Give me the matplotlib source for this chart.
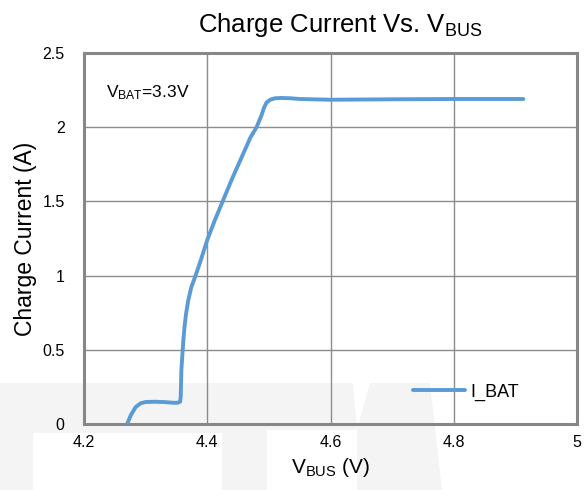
import matplotlib
matplotlib.use("Agg")
import matplotlib.pyplot as plt
from matplotlib import font_manager
from matplotlib.patches import Polygon

# Charge current vs. bus voltage, V_BAT = 3.3 V
vbus = [4.270, 4.276, 4.284, 4.292, 4.300, 4.315, 4.330, 4.345, 4.352, 4.356,
        4.357, 4.358, 4.3595, 4.3610, 4.3630, 4.3655, 4.369, 4.374, 4.381, 4.390,
        4.400, 4.412, 4.425, 4.440, 4.455, 4.470, 4.480, 4.488, 4.492, 4.496,
        4.502, 4.510, 4.520, 4.535, 4.550, 4.600, 4.700, 4.800, 4.913]
i_bat = [0.00, 0.06, 0.115, 0.140, 0.148, 0.150, 0.148, 0.143, 0.143, 0.150,
         0.19, 0.36, 0.46, 0.55, 0.65, 0.74, 0.83, 0.92, 1.00, 1.11,
         1.24, 1.37, 1.50, 1.65, 1.79, 1.93, 2.00, 2.08, 2.13, 2.165,
         2.185, 2.195, 2.197, 2.195, 2.19, 2.185, 2.188, 2.19, 2.19]

x_ticks = [4.2, 4.4, 4.6, 4.8, 5.0]
x_tick_labels = ["4.2", "4.4", "4.6", "4.8", "5"]
y_ticks = [0, 0.5, 1, 1.5, 2, 2.5]
y_tick_labels = ["0", "0.5", "1", "1.5", "2", "2.5"]

available = {f.name for f in font_manager.fontManager.ttflist}
family = "Liberation Sans Narrow" if "Liberation Sans Narrow" in available else "Liberation Sans"
plt.rcParams["font.family"] = [family, "DejaVu Sans"]
plt.rcParams["mathtext.fontset"] = "custom"
plt.rcParams["mathtext.rm"] = family
plt.rcParams["mathtext.default"] = "regular"

W, H = 587, 490
fig = plt.figure(figsize=(W / 100, H / 100), dpi=100)

# faint background logo band along the bottom
def px_poly(pts, **kw):
    return Polygon([(x / W, 1 - y / H) for x, y in pts], closed=True,
                   transform=fig.transFigure, zorder=-5, linewidth=0, **kw)

wm = "#f4f4f4"
for pts in [
    [(0, 383), (33, 383), (33, 490), (0, 490)],
    [(33, 383), (222, 383), (222, 433), (33, 433)],
    [(222, 383), (267, 383), (267, 490), (222, 490)],
    [(267, 383), (353, 383), (357, 430), (267, 430)],
    [(370, 383), (430, 383), (442, 490), (357, 490), (357, 430)],
]:
    fig.add_artist(px_poly(pts, facecolor=wm))

ax = fig.add_axes([84 / W, 1 - 424 / H, (577 - 84) / W, (424 - 53) / H])
ax.set_facecolor("none")

ax.plot(vbus, i_bat, color="#5B9BD5", linewidth=2.8, solid_capstyle="round",
        solid_joinstyle="round", label="I_BAT", zorder=3)

ax.set_xlim(4.2, 5.0)
ax.set_ylim(0, 2.5)
ax.set_xticks(x_ticks)
ax.set_xticklabels(x_tick_labels)
ax.set_yticks(y_ticks)
ax.set_yticklabels(y_tick_labels)
ax.tick_params(length=0, labelsize=11.5)
ax.tick_params(axis="y", pad=14)
ax.tick_params(axis="x", pad=8)

ax.grid(True, color="#8c8c8c", linewidth=1.0)
ax.set_axisbelow(True)
for sp in ax.spines.values():
    sp.set_color("#878787")
    sp.set_linewidth(2.2)

ax.set_title("Charge Current Vs. V$_{BUS}$", fontsize=18.5, pad=15, x=0.519)
ax.set_ylabel("Charge Current (A)", fontsize=16.5, labelpad=4)
ax.set_xlabel("V$_{BUS}$ (V)", fontsize=15, labelpad=4)

ax.text(0.0446, 0.892, "V$_{BAT}$=3.3V", transform=ax.transAxes,
        fontsize=12.5, ha="left", va="center")

ax.legend(loc="center left", bbox_to_anchor=(0.667, 0.0863), frameon=False,
          fontsize=13, handlelength=2.9, handletextpad=0.3,
          borderpad=0, borderaxespad=0)

fig.savefig("out.png", dpi=100)
